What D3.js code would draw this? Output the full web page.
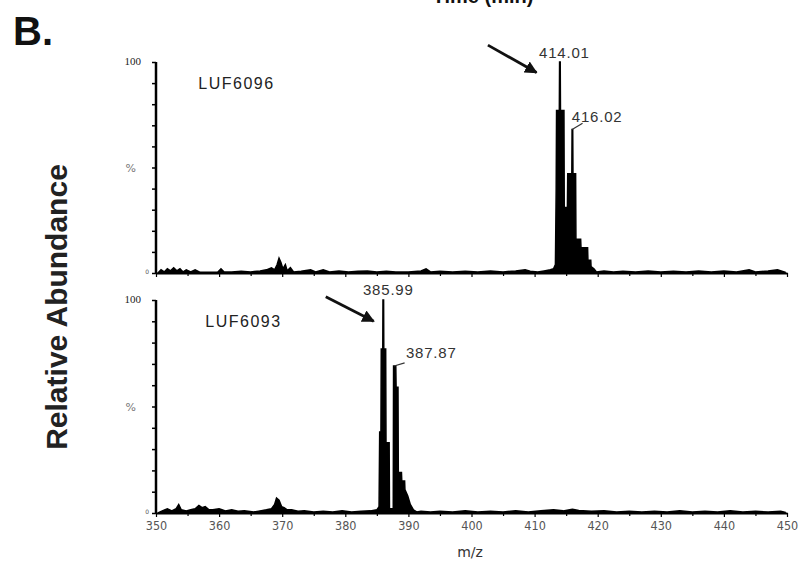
<!DOCTYPE html>
<html><head><meta charset="utf-8">
<script src="https://cdn.jsdelivr.net/npm/d3@7"></script>
<style>body{margin:0;background:#fff}svg{display:block}</style>
</head><body>
<svg id="c" width="802" height="567"></svg>
<script>
// ---- data (m/z, relative abundance %) ----
const xTicks = [350,360,370,380,390,400,410,420,430,440,450];
const yTicks = [0,10,20,30,40,50,60,70,80,90,100];
const panelNames = ["LUF6096","LUF6093"];
const spectrumTop = [
[350.3,0],[350.8,1.5],[351.3,0.5],[351.8,2],[352.3,1],[352.8,2.5],[353.3,1],[353.8,2],[354.3,0.5],[354.8,1.5],[355.5,0.5],[356.2,1.5],[357,0.3],[358.5,0.3],[359.8,0.5],[360.3,2],[360.8,0.5],[362,0.5],[363.5,0.8],[365,0.5],[366.5,1],[367.5,1.5],[368.3,2.5],[368.8,1.5],[369.2,4],[369.5,7],[369.8,5],[370.1,2],[370.5,4],[370.8,1],[371.3,2.5],[371.8,0.5],[373,0.8],[374.5,1.5],[375.3,0.5],[376.5,1.5],[377.5,0.5],[379,1],[380.5,0.5],[382,0.8],[383.5,1],[385,0.5],[386.5,0.8],[388,0.5],[390,0.5],[392,1],[392.8,2],[393.5,0.5],[395,0.8],[397,0.5],[399,0.8],[401,0.5],[403,1],[405,0.5],[407,1],[408.5,1.5],[409.3,0.8],[410.5,0.5],[411.5,1],[412.5,1.5],[413.0,2],[413.3,4],
[413.42,40],[413.48,77],[413.92,77],[413.96,100],[414.06,100],[414.1,77],[414.65,77],[414.7,31],[415.2,31],[415.25,47],[415.9,47],[415.94,68],[416.04,68],[416.08,47],[416.5,47],[416.55,16],[417.3,16],[417.35,12],[418.4,12],[418.45,6],[418.9,6],[418.95,3],[419.4,2],[419.8,0.5],
[421,1],[422.5,0.5],[424,0.8],[426,0.5],[428,1],[430,0.5],[432,0.8],[434,0.5],[436,1],[438,0.5],[440,1],[442,0.5],[444,1.5],[445,0.5],[447,1],[448.5,1.5],[449.8,0.3]
];
const spectrumBottom = [
[350.3,0],[351,1],[351.8,2],[352.5,1],[353.2,2],[353.6,4],[354,1.5],[354.8,1],[355.5,1.5],[356.2,2],[356.8,3.5],[357.3,2.5],[357.8,3],[358.4,1.5],[359,1.5],[360,2],[361,1],[362,1.5],[363,0.8],[364,1],[365.5,0.5],[366.5,1],[367.5,1.5],[368.3,2],[368.8,4],[369.1,7],[369.5,6],[369.9,3],[370.3,2.5],[370.8,1.5],[371.5,1.5],[372.5,0.8],[373.5,1],[375,0.5],[376.5,0.8],[378,0.5],[379.5,1],[381,0.5],[382.5,0.8],[384,1],[385,1.5],[385.35,3],
[385.45,38],[385.65,38],[385.7,77],[385.94,77],[385.97,100],[386.07,100],[386.1,77],[386.4,77],[386.45,33],[386.95,33],[387.0,2],[387.6,2],[387.65,69],[388.0,69],[388.05,59],[388.35,59],[388.4,19],[388.9,19],[388.95,15],[389.4,15],[389.45,11],[389.9,8],[390.3,4],[390.8,1.5],[391.3,0.5],
[392,0.8],[393.5,0.5],[395,0.8],[397,0.5],[399,1],[401,0.5],[403,0.8],[405,0.5],[407,1],[409,0.5],[411,1],[413,1.5],[414.5,1],[416,1.8],[417,1.2],[419,0.8],[421,1],[423,0.5],[425,0.8],[427,0.5],[429,0.8],[431,0.5],[433,1],[435,0.5],[437,0.8],[439,0.5],[441,1],[443,0.5],[445,0.8],[447,0.5],[449,0.8],[449.8,0.3]
];
// peak annotations: [label, label m/z, label %, leader from [mz,%], leader to [mz,%]]
const peakLabelsTop = [["414.01",410.7,102,null,null],["416.02",415.9,71.5,[415.95,68],[417.6,71]]];
const peakLabelsBottom = [["385.99",382.8,102.3,null,null],["387.87",389.6,73,[387.75,69],[389.4,70.5]]];
// arrows: [from mz, from %, to mz, to %]
const arrowTop = [402.6,108,410.3,95];
const arrowBottom = [376.9,101.5,384.5,90];

// ---- layout ----
const svg = d3.select("#c");
const x = d3.scaleLinear().domain([350,450]).range([156,787]);
const panels = [
  {name:panelNames[0], data:spectrumTop, labels:peakLabelsTop, arrow:arrowTop, top:62, base:273, showX:false, nameDx:0},
  {name:panelNames[1], data:spectrumBottom, labels:peakLabelsBottom, arrow:arrowBottom, top:300, base:513, showX:true, nameDx:7}
];
svg.append("defs").append("marker").attr("id","ah").attr("viewBox","0 0 10 10")
  .attr("refX",9).attr("refY",5).attr("markerWidth",4.5).attr("markerHeight",4.5)
  .attr("markerUnits","strokeWidth").attr("orient","auto")
  .append("path").attr("d","M0,0L10,5L0,10z").attr("fill","#111");

panels.forEach(p=>{
  const y = d3.scaleLinear().domain([0,100]).range([p.base,p.top]);
  const g = svg.append("g");
  // spectrum
  const area = d3.area().x(d=>x(d[0])).y0(y(0)).y1(d=>y(d[1]));
  const line = d3.line().x(d=>x(d[0])).y(d=>y(d[1]));
  g.append("path").datum(p.data).attr("d",area).attr("fill","#000");
  g.append("path").datum(p.data).attr("d",line).attr("fill","none").attr("stroke","#000").attr("stroke-width",1.5);
  // x axis
  const xa = d3.axisBottom(x).tickValues(d3.range(350,451,5)).tickSize(0).tickFormat("");
  const xg = g.append("g").attr("transform",`translate(0,${p.base})`).call(xa);
  xg.select(".domain").attr("stroke","#000").attr("stroke-width",2.2);
  xg.selectAll(".tick line").attr("stroke","#000").attr("stroke-width",1.2).attr("y2",(d)=>d%10===0?4:3);
  if(p.showX){
    xg.selectAll(".tick").filter(d=>xTicks.includes(d)).append("text")
      .attr("y",17).attr("fill","#555").attr("text-anchor","middle")
      .style("font-family","'DejaVu Sans Condensed','DejaVu Sans',sans-serif").style("font-size","12.5px")
      .text(d=>d);
  }
  // y axis
  const ya = d3.axisLeft(y).tickValues(yTicks).tickSize(4).tickFormat("");
  const yg = g.append("g").attr("transform",`translate(${x(350)},0)`).call(ya);
  yg.select(".domain").attr("stroke","#000").attr("stroke-width",2.5).attr("d",`M0,${p.top}V${p.base}`);
  yg.selectAll(".tick line").attr("stroke","#000").attr("stroke-width",1.5);
  g.append("text").attr("x",x(350)-15).attr("y",y(100)+3).attr("text-anchor","end")
    .style("font-family","'Liberation Serif',serif").style("font-size","11px").attr("fill","#222").text("100");
  g.append("text").attr("x",x(350)-20).attr("y",y(50)+4).attr("text-anchor","end")
    .style("font-family","'DejaVu Sans',sans-serif").style("font-size","11px").attr("fill","#777").text("%");
  g.append("text").attr("x",x(350)-7).attr("y",y(0)+1).attr("text-anchor","end")
    .style("font-family","'DejaVu Sans',sans-serif").style("font-size","6px").attr("fill","#555").text("0");
  // sample name
  g.append("text").attr("x",x(356.7)+p.nameDx).attr("y",y(90)+6)
    .style("font-family","'Liberation Sans',Arial,sans-serif").style("font-size","16px")
    .style("letter-spacing","1.5px").attr("fill","#222").text(p.name);
  // peak labels
  p.labels.forEach(l=>{
    g.append("text").attr("x",x(l[1])).attr("y",y(l[2]))
      .style("font-family","'Liberation Sans',Arial,sans-serif").style("font-size","15px")
      .style("letter-spacing","0.8px").attr("fill","#333").text(l[0]);
    if(l[3]) g.append("line").attr("x1",x(l[3][0])).attr("y1",y(l[3][1])).attr("x2",x(l[4][0])).attr("y2",y(l[4][1]))
      .attr("stroke","#333").attr("stroke-width",1.2);
  });
  // arrow
  const a = p.arrow;
  g.append("line").attr("x1",x(a[0])).attr("y1",y(a[1])).attr("x2",x(a[2])).attr("y2",y(a[3]))
    .attr("stroke","#111").attr("stroke-width",2.8).attr("marker-end","url(#ah)");
});

// titles
svg.append("text").attr("x",13).attr("y",45).style("font-family","'Liberation Sans',Arial,sans-serif")
  .style("font-size","40px").style("font-weight","bold").attr("fill","#111").text("B.");
svg.append("text").attr("x",483).attr("y",3).attr("text-anchor","middle").style("font-family","'Liberation Sans',Arial,sans-serif")
  .style("font-size","20px").style("font-weight","bold").attr("fill","#111").text("Time (min)");
svg.append("text").attr("transform","translate(67,307) rotate(-90)").attr("text-anchor","middle")
  .style("font-family","'Liberation Sans',Arial,sans-serif").style("font-size","30px").style("font-weight","bold")
  .attr("fill","#222").text("Relative Abundance");
svg.append("text").attr("x",470).attr("y",557).attr("text-anchor","middle")
  .style("font-family","'DejaVu Sans',sans-serif").style("font-size","14px").attr("fill","#333").text("m/z");
</script>
</body></html>
